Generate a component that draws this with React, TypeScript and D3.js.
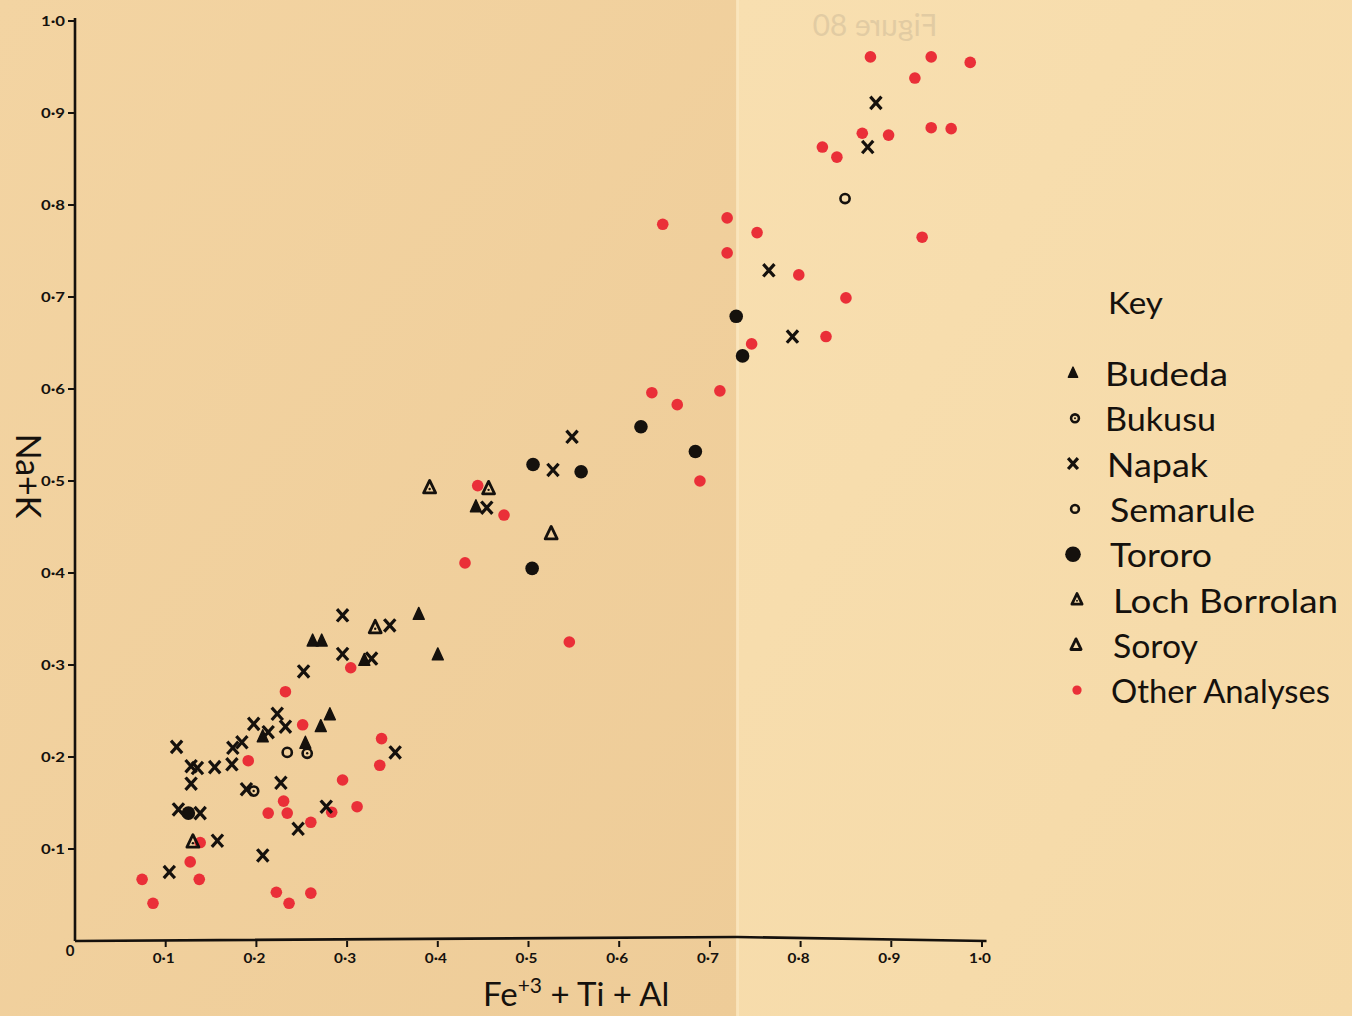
import React from "react";
import * as d3 from "d3";

type P = [number, number];

const budeda: P[] = [
  [0.207, 0.222], [0.254, 0.215], [0.271, 0.233], [0.281, 0.246], [0.262, 0.326],
  [0.272, 0.326], [0.319, 0.305], [0.379, 0.355], [0.4, 0.311], [0.442, 0.472],
];
const bukusu: P[] = [[0.256, 0.204], [0.197, 0.163]];
const napak: P[] = [
  [0.112, 0.211], [0.128, 0.19], [0.135, 0.188], [0.154, 0.189], [0.128, 0.171],
  [0.173, 0.192], [0.174, 0.21], [0.184, 0.216], [0.197, 0.236], [0.213, 0.227],
  [0.223, 0.247], [0.232, 0.233], [0.189, 0.165], [0.227, 0.172], [0.114, 0.143],
  [0.138, 0.139], [0.157, 0.109], [0.104, 0.075], [0.207, 0.093], [0.246, 0.122],
  [0.277, 0.146], [0.353, 0.205], [0.252, 0.293], [0.295, 0.312], [0.327, 0.307],
  [0.295, 0.354], [0.347, 0.343], [0.454, 0.471], [0.527, 0.512], [0.548, 0.548],
  [0.765, 0.729], [0.791, 0.657], [0.874, 0.863], [0.883, 0.911],
];
const semarule: P[] = [[0.234, 0.205], [0.849, 0.807]];
const tororo: P[] = [
  [0.125, 0.139], [0.505, 0.518], [0.558, 0.51], [0.504, 0.405], [0.624, 0.559],
  [0.684, 0.532], [0.729, 0.679], [0.736, 0.636],
];
const lochBorrolan: P[] = [[0.13, 0.108], [0.331, 0.341], [0.391, 0.493], [0.456, 0.492]];
const soroy: P[] = [[0.525, 0.443]];
const otherAnalyses: P[] = [
  [0.074, 0.067], [0.086, 0.041], [0.127, 0.086], [0.137, 0.067], [0.138, 0.107],
  [0.191, 0.196], [0.251, 0.235], [0.213, 0.139], [0.23, 0.152], [0.234, 0.139],
  [0.26, 0.129], [0.222, 0.053], [0.236, 0.041], [0.26, 0.052], [0.283, 0.14],
  [0.295, 0.175], [0.311, 0.146], [0.336, 0.191], [0.338, 0.22], [0.304, 0.297],
  [0.232, 0.271], [0.444, 0.495], [0.473, 0.463], [0.43, 0.411], [0.545, 0.325],
  [0.689, 0.5], [0.636, 0.596], [0.664, 0.583], [0.711, 0.598], [0.746, 0.649],
  [0.648, 0.779], [0.719, 0.786], [0.752, 0.77], [0.719, 0.748], [0.798, 0.724],
  [0.85, 0.699], [0.828, 0.657], [0.934, 0.765], [0.877, 0.961], [0.944, 0.961],
  [0.987, 0.955], [0.926, 0.938], [0.868, 0.878], [0.897, 0.876], [0.944, 0.884],
  [0.966, 0.883], [0.824, 0.863], [0.84, 0.852],
];

const tickValues = [0.1, 0.2, 0.3, 0.4, 0.5, 0.6, 0.7, 0.8, 0.9, 1.0];
const tickLabels = ["0·1", "0·2", "0·3", "0·4", "0·5", "0·6", "0·7", "0·8", "0·9", "1·0"];
const legendNames = ["Budeda", "Bukusu", "Napak", "Semarule", "Tororo", "Loch Borrolan", "Soroy", "Other Analyses"];
const legendWidths = [123, 111, 101, 145, 102, 225, 85, 219];

const INK = "#15110d";
const RED = "#ea2f38";
const FONT = "Lato, 'DejaVu Sans', sans-serif";

function Marker({ kind, x, y, scale = 1 }: { kind: string; x: number; y: number; scale?: number }) {
  const s = scale;
  switch (kind) {
    case "budeda":
      return <path d={`M${x},${y - 7 * s} L${x + 5.5 * s},${y + 5 * s} L${x - 5.5 * s},${y + 5 * s} Z`} fill={INK} stroke={INK} strokeWidth={1.4} strokeLinejoin="round" />;
    case "bukusu":
      return (
        <g>
          <circle cx={x} cy={y} r={4.6 * s} fill="none" stroke={INK} strokeWidth={2.6} />
          <circle cx={x} cy={y} r={1.2 * s} fill={INK} />
        </g>
      );
    case "semarule":
      return <circle cx={x} cy={y} r={4.6 * s} fill="none" stroke={INK} strokeWidth={2.6} />;
    case "napak":
      return (
        <path d={`M${x - 4.5 * s},${y - 5 * s} L${x + 4.5 * s},${y + 5 * s} M${x + 4.5 * s},${y - 5 * s} L${x - 4.5 * s},${y + 5 * s}`} stroke={INK} strokeWidth={3.2} strokeLinecap="square" />
      );
    case "tororo":
      return <circle cx={x} cy={y} r={6.8 * s} fill={INK} />;
    case "loch":
      return (
        <g>
          <path d={`M${x},${y - 7 * s} L${x + 6 * s},${y + 5.5 * s} L${x - 6 * s},${y + 5.5 * s} Z`} fill="none" stroke={INK} strokeWidth={2.8} strokeLinejoin="round" />
          <circle cx={x} cy={y + 1.5 * s} r={1.2 * s} fill={INK} />
        </g>
      );
    case "soroy":
      return <path d={`M${x},${y - 7 * s} L${x + 6 * s},${y + 5.5 * s} L${x - 6 * s},${y + 5.5 * s} Z`} fill="none" stroke={INK} strokeWidth={2.8} strokeLinejoin="round" />;
    default:
      return <circle cx={x} cy={y} r={5.8 * s} fill={RED} />;
  }
}

export default function App() {
  const W = 1352, H = 1016;
  const x = d3.scaleLinear().domain([0, 1]).range([75, 982]);
  const y = d3.scaleLinear().domain([0, 1]).range([941, 21]);

  const series: { kind: string; data: P[] }[] = [
    { kind: "other", data: otherAnalyses },
    { kind: "tororo", data: tororo },
    { kind: "budeda", data: budeda },
    { kind: "loch", data: lochBorrolan },
    { kind: "soroy", data: soroy },
    { kind: "semarule", data: semarule },
    { kind: "bukusu", data: bukusu },
    { kind: "napak", data: napak },
  ];
  const legendKinds = ["budeda", "bukusu", "napak", "semarule", "tororo", "loch", "soroy", "other"];

  return (
    <svg width={W} height={H} style={{ position: "fixed", left: 0, top: 0 }} fontFamily={FONT}>
      <defs>
        <linearGradient id="paperL" x1="0" y1="0" x2="1" y2="1">
          <stop offset="0" stopColor="#f3d4a2" />
          <stop offset="1" stopColor="#eecc98" />
        </linearGradient>
        <linearGradient id="paperR" x1="0" y1="0" x2="1" y2="1">
          <stop offset="0" stopColor="#f8dfb0" />
          <stop offset="1" stopColor="#f5d9a7" />
        </linearGradient>
      </defs>
      <rect x={0} y={0} width={737} height={H} fill="url(#paperL)" />
      <rect x={737} y={0} width={W - 737} height={H} fill="url(#paperR)" />
      <rect x={736} y={0} width={3} height={H} fill="#fae6bf" opacity={0.8} />

      {/* bleed-through text */}
      <text x={0} y={0} transform="translate(875,36) scale(-1,1)" textAnchor="middle" fontSize={30} fill="#b0a288" opacity={0.3}>Figure 80</text>

      {/* axes */}
      <line x1={75} y1={18} x2={75} y2={941} stroke={INK} strokeWidth={2.6} />
      <path d={`M75,941 L${x(0.73)},937 L${x(1.005)},941`} fill="none" stroke={INK} strokeWidth={2.6} />
      {tickValues.map((v, i) => (
        <g key={"yt" + i}>
          <line x1={68} x2={75} y1={y(v)} y2={y(v)} stroke={INK} strokeWidth={2} />
          <text x={65} y={y(v) + 5} textAnchor="end" fontSize={14} fontWeight={700} fill={INK} textLength={24} lengthAdjust="spacingAndGlyphs">{tickLabels[i]}</text>
        </g>
      ))}
      {tickValues.map((v, i) => (
        <g key={"xt" + i}>
          <line x1={x(v)} x2={x(v)} y1={941} y2={947} stroke={INK} strokeWidth={2} />
          <text x={x(v) - 2} y={963} textAnchor="middle" fontSize={14} fontWeight={700} fill={INK} textLength={22} lengthAdjust="spacingAndGlyphs">{tickLabels[i]}</text>
        </g>
      ))}
      <text x={70} y={956} textAnchor="middle" fontSize={15} fontWeight={700} fill={INK}>0</text>

      {/* axis titles */}
      <text x={483} y={1006} fontSize={33} fill={INK}>
        Fe<tspan dy={-13} fontSize={21}>+3</tspan><tspan dy={13}> + Ti + Al</tspan>
      </text>
      <text transform="translate(16,476) rotate(90)" textAnchor="middle" fontSize={34} fill={INK}>Na+K</text>

      {/* points */}
      {series.map((s) =>
        s.data.map((d, i) => <Marker key={s.kind + i} kind={s.kind} x={x(d[0])} y={y(d[1])} />)
      )}

      {/* legend */}
      <text x={1108} y={314} fontSize={30} fill={INK} textLength={55} lengthAdjust="spacingAndGlyphs">Key</text>
      {legendNames.map((n, i) => {
        const ty = 386 + i * 45.3;
        const tx = [1105, 1105, 1107, 1110, 1110, 1113, 1113, 1111][i];
        const mk = legendKinds[i];
        const mx = [1073, 1075, 1073, 1075, 1073, 1077, 1076, 1077][i];
        return (
          <g key={n}>
            <Marker kind={mk} x={mx} y={ty - 13} scale={mk === "tororo" ? 1.15 : mk === "other" ? 0.8 : 0.85} />
            <text x={tx} y={ty} fontSize={33} fill={INK} textLength={legendWidths[i]} lengthAdjust="spacingAndGlyphs">{n}</text>
          </g>
        );
      })}
    </svg>
  );
}
